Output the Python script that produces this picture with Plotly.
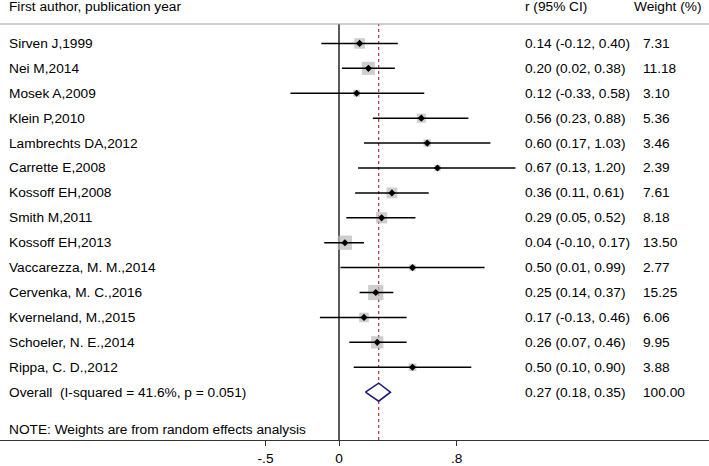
import plotly.graph_objects as go
import math

studies = ["Sirven J,1999", "Nei M,2014", "Mosek A,2009", "Klein P,2010",
           "Lambrechts DA,2012", "Carrette E,2008", "Kossoff EH,2008", "Smith M,2011",
           "Kossoff EH,2013", "Vaccarezza, M. M.,2014", "Cervenka, M. C.,2016",
           "Kverneland, M.,2015", "Schoeler, N. E.,2014", "Rippa, C. D.,2012"]
r_est = [0.14, 0.20, 0.12, 0.56, 0.60, 0.67, 0.36, 0.29, 0.04, 0.50, 0.25, 0.17, 0.26, 0.50]
ci_lo = [-0.12, 0.02, -0.33, 0.23, 0.17, 0.13, 0.11, 0.05, -0.10, 0.01, 0.14, -0.13, 0.07, 0.10]
ci_hi = [0.40, 0.38, 0.58, 0.88, 1.03, 1.20, 0.61, 0.52, 0.17, 0.99, 0.37, 0.46, 0.46, 0.90]
weights = [7.31, 11.18, 3.10, 5.36, 3.46, 2.39, 7.61, 8.18, 13.50, 2.77, 15.25, 6.06, 9.95, 3.88]

overall_label = "Overall  (I-squared = 41.6%, p = 0.051)"
overall_est, overall_lo, overall_hi, overall_w = 0.27, 0.18, 0.35, 100.00
note_text = "NOTE: Weights are from random effects analysis"

headers = ["First author, publication year", "r (95% CI)", "Weight (%)"]
tick_vals = [-0.5, 0, 0.8]
tick_text = ["-.5", "0", ".8"]

W, H = 709, 466
FONT = "Liberation Sans, Arial, Helvetica, sans-serif"
FS = 13.7
n = len(studies)
rows = list(range(n))
y_overall = n
y_note = n + 1.5

# x-axis scale: 0 at px 339, ~147 px per unit
ppu = 147.0
x0px = 339.0
xmin = -x0px / ppu
xmax = xmin + W / ppu
ymin_top = -0.78
ymax_bot = 15.92
M_TOP, M_BOT = 24, 23

fig = go.Figure()

# weight squares
fig.add_trace(go.Scatter(
    x=r_est, y=rows, mode="markers",
    marker=dict(symbol="square", size=[3.9 * math.sqrt(w) for w in weights],
                color="#b9b9b9", line=dict(width=0)),
    hoverinfo="skip", showlegend=False))

# CI lines
xs, ys = [], []
for i in rows:
    xs += [ci_lo[i], ci_hi[i], None]
    ys += [i, i, None]
fig.add_trace(go.Scatter(x=xs, y=ys, mode="lines",
                         line=dict(color="black", width=1.5),
                         hoverinfo="skip", showlegend=False))

# point estimates
fig.add_trace(go.Scatter(
    x=r_est, y=rows, mode="markers",
    marker=dict(symbol="diamond", size=5.5, color="black"),
    hoverinfo="skip", showlegend=False))

# overall diamond
dh = 0.36
fig.add_trace(go.Scatter(
    x=[overall_lo, overall_est, overall_hi, overall_est, overall_lo],
    y=[y_overall, y_overall - dh, y_overall, y_overall + dh, y_overall],
    mode="lines", fill="toself", fillcolor="white",
    line=dict(color="#1c1c78", width=1.6),
    hoverinfo="skip", showlegend=False))

shapes = [
    dict(type="line", xref="x", yref="paper", x0=0, x1=0, y0=0, y1=1,
         line=dict(color="black", width=1.3), layer="below"),
    dict(type="line", xref="x", yref="paper", x0=overall_est, x1=overall_est, y0=0, y1=1,
         line=dict(color="#a8343c", width=1.2, dash="3px,3px"), layer="below"),
    dict(type="line", xref="paper", yref="paper", x0=0, x1=1, y0=1, y1=1,
         line=dict(color="#a0a0a0", width=1.2)),
]

annotations = []
def txt(xpx, y, s, yref="y"):
    annotations.append(dict(x=xpx / W, xref="paper", y=y, yref=yref, text=s,
                            showarrow=False, xanchor="left", yanchor="middle",
                            font=dict(family=FONT, size=FS, color="black")))

plot_h = H - M_TOP - M_BOT
y_header_paper = 1 + (M_TOP - 6.5) / plot_h
for xp, h in zip([7, 523, 632], headers):
    txt(xp, y_header_paper, h, yref="paper")

for i in rows:
    txt(7, i, studies[i])
    txt(523, i, f"{r_est[i]:.2f} ({ci_lo[i]:.2f}, {ci_hi[i]:.2f})")
    txt(641, i, f"{weights[i]:.2f}")
txt(7, y_overall, overall_label)
txt(523, y_overall, f"{overall_est:.2f} ({overall_lo:.2f}, {overall_hi:.2f})")
txt(641, y_overall, f"{overall_w:.2f}")
txt(7, y_note, note_text)

fig.update_layout(
    width=W, height=H,
    margin=dict(l=0, r=0, t=M_TOP, b=M_BOT),
    paper_bgcolor="white", plot_bgcolor="white",
    shapes=shapes, annotations=annotations,
    font=dict(family=FONT, size=FS, color="black"),
    xaxis=dict(range=[xmin, xmax], tickvals=tick_vals, ticktext=tick_text,
               showgrid=False, zeroline=False, showline=True,
               linecolor="#333333", linewidth=1.3,
               ticks="outside", ticklen=5, tickcolor="#333333", tickwidth=1.3,
               tickfont=dict(family=FONT, size=FS, color="black"), fixedrange=True),
    yaxis=dict(range=[ymax_bot, ymin_top], showgrid=False, zeroline=False,
               showline=False, showticklabels=False, fixedrange=True),
)

fig.write_html("out.html", config={"displayModeBar": False},
               post_script="document.body.style.margin='0';document.body.style.padding='0';")
